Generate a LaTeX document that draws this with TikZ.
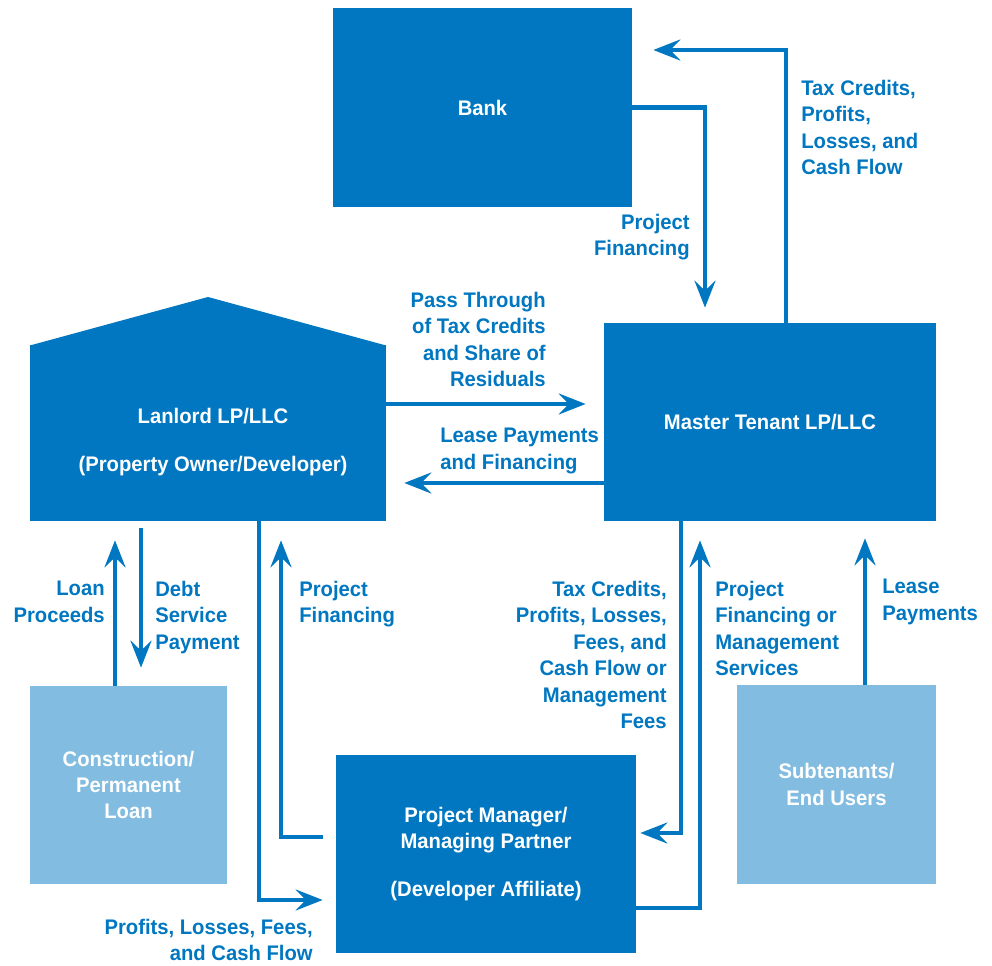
\documentclass[tikz,border=0pt]{standalone}
\usepackage{fontspec}
\setmainfont{Liberation Sans}[FakeStretch=0.96]
\usetikzlibrary{arrows.meta}
\definecolor{mainblue}{HTML}{0077C0}
\definecolor{lightblue}{HTML}{82BCE0}

\begin{document}
\begin{tikzpicture}[x=0.02cm, y=-0.02cm,
		box/.style={fill=mainblue, text=white, font=\fontsize{12}{15}\selectfont\bfseries, align=center, inner sep=0pt},
		lightbox/.style={box, fill=lightblue},
		flow/.style={draw=mainblue, line width=2.7pt, -{Stealth[length=0.54cm, width=0.42cm, inset=0.2cm]}},
		lbl/.style={text=mainblue, font=\fontsize{12}{15}\selectfont\bfseries, inner sep=0pt}]
		\useasboundingbox (0, 0) rectangle (992, 966);

		% 方框
		\node[box, minimum width=5.98cm, minimum height=3.98cm] (bank) at (482.5, 107.5) {Bank};
		\node[box, minimum width=6.64cm, minimum height=3.96cm] (master) at (770, 422) {Master Tenant LP/LLC};
		\node[box, minimum width=7.12cm, minimum height=3.52cm] (landlord) at (208, 433) {};
		\fill[mainblue] ([yshift=-0.5pt]landlord.north west) -- (208, 297) -- ([yshift=-0.5pt]landlord.north east) -- cycle;
		\node[box, fill=none] (landlordtext) at (213, 442) {Lanlord LP/LLC\\[12pt](Property Owner/Developer)};
		\node[lightbox, minimum width=3.94cm, minimum height=3.96cm] (loan) at (128.5, 785) {Construction/\\Permanent\\Loan};
		\node[box, minimum width=6cm, minimum height=3.96cm] (manager) at (486, 854) {Project Manager/\\Managing Partner\\[12pt](Developer Affiliate)};
		\node[lightbox, minimum width=3.98cm, minimum height=3.98cm] (subtenants) at (836.5, 784.5) {Subtenants/\\End Users};

		% 箭头
		\draw[flow, shorten >=0.3cm] (bank.east) -| (705, 0 |- master.north);
		\draw[flow, shorten >=0.42cm] (786, 0 |- master.north) |- (bank.east |- 0, 50);
		\draw[flow, shorten >=0.36cm] (landlord.east |- 0, 404) -- (master.west |- 0, 404);
		\draw[flow, shorten >=0.36cm] (master.west |- 0, 483) -- (landlord.east |- 0, 483);
		\draw[flow, shorten >=0.38cm] (115, 0 |- loan.north) -- (115, 0 |- landlord.south);
		\draw[flow, shorten <=0.14cm, shorten >=0.36cm] (141, 0 |- landlord.south) -- (141, 0 |- loan.north);
		\draw[flow, shorten >=0.26cm] (259, 0 |- landlord.south) |- (manager.west |- 0, 900);
		\draw[flow, shorten <=0.26cm, shorten >=0.38cm] (manager.west |- 0, 837) -| (281, 0 |- landlord.south);
		\draw[flow, shorten >=0.08cm] (681, 0 |- master.south) |- (manager.east |- 0, 833);
		\draw[flow, shorten >=0.38cm] (manager.east |- 0, 908) -| (700, 0 |- master.south);
		\draw[flow, shorten >=0.34cm] (865, 0 |- subtenants.north) -- (865, 0 |- master.south);

		% 文字标签
		\node[lbl, anchor=north west, align=left] (taxcredits) at (801, 80) {Tax Credits,\\Profits,\\Losses, and\\Cash Flow};
		\node[lbl, anchor=north east, align=right] (bankfinancing) at (690, 214) {Project\\Financing};
		\node[lbl, anchor=north east, align=right] (passthrough) at (546, 292) {Pass Through\\of Tax Credits\\and Share of\\Residuals};
		\node[lbl, anchor=north west, align=left] (leasefinancing) at (440, 428) {Lease Payments\\and Financing};
		\node[lbl, anchor=north east, align=right] (loanproceeds) at (105, 581) {Loan\\Proceeds};
		\node[lbl, anchor=north west, align=left] (debtservice) at (155, 581) {Debt\\Service\\Payment};
		\node[lbl, anchor=north west, align=left] (ownerfinancing) at (299, 581) {Project\\Financing};
		\node[lbl, anchor=north east, align=right] (profitsfees) at (313, 919) {Profits, Losses, Fees,\\and Cash Flow};
		\node[lbl, anchor=north east, align=right] (managementfees) at (667, 581) {Tax Credits,\\Profits, Losses,\\Fees, and\\Cash Flow or\\Management\\Fees};
		\node[lbl, anchor=north west, align=left] (managementservices) at (715, 581) {Project\\Financing or\\Management\\Services};
		\node[lbl, anchor=north west, align=left] (leasepayments) at (882, 579) {Lease\\Payments};
	\end{tikzpicture}
\end{document}
